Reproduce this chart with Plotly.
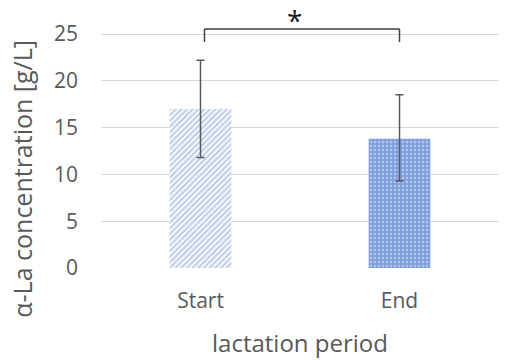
import plotly.graph_objects as go

categories = ["Start", "End"]
values = [17.0, 13.8]
err_plus = [5.2, 4.7]
err_minus = [5.2, 4.5]
y_ticks = [0, 5, 10, 15, 20, 25]
bracket_y = 25.55
bracket_leg = 24.15
star_y = 26.5
star_label = "*"
y_title = "α-La concentration [g/L]"
x_title = "lactation period"

fig = go.Figure()
fig.add_trace(go.Bar(
    x=[categories[0]], y=[values[0]],
    error_y=dict(type="data", symmetric=False, array=[err_plus[0]], arrayminus=[err_minus[0]],
                 color="#595959", thickness=1.5, width=4),
    marker=dict(color="white", line=dict(width=0),
                pattern=dict(shape="/", fgcolor="#7f9dd8", bgcolor="white", size=4, solidity=0.55)),
    width=0.31, showlegend=False,
))
fig.add_trace(go.Bar(
    x=[categories[1]], y=[values[1]],
    error_y=dict(type="data", symmetric=False, array=[err_plus[1]], arrayminus=[err_minus[1]],
                 color="#595959", thickness=1.5, width=4),
    marker=dict(color="#7f9fdc", line=dict(width=0),
                pattern=dict(shape=".", fgcolor="#e3eaf8", bgcolor="#7f9fdc", size=4, solidity=0.3)),
    width=0.31, showlegend=False,
))

fig.add_shape(type="line", xref="x", yref="y", x0=0.02, x1=0.02, y0=bracket_leg, y1=bracket_y,
              line=dict(color="#404040", width=1.5))
fig.add_shape(type="line", xref="x", yref="y", x0=0.02, x1=1.0, y0=bracket_y, y1=bracket_y,
              line=dict(color="#404040", width=1.5))
fig.add_shape(type="line", xref="x", yref="y", x0=1.0, x1=1.0, y0=bracket_leg, y1=bracket_y,
              line=dict(color="#404040", width=1.5))
fig.add_annotation(x=0.47, xref="x", y=star_y, yref="y", text=star_label, showarrow=False,
                   yanchor="middle", font=dict(size=28, color="#1a1a1a", family="Open Sans"))
fig.add_annotation(x=-0.1985, xref="paper", y=0.36, yref="paper", text=y_title, showarrow=False,
                   textangle=-90, xanchor="center", yanchor="middle",
                   font=dict(size=25, color="#595959", family="Open Sans"))

fig.update_layout(
    width=509, height=360,
    margin=dict(l=101, r=10, t=20, b=92, autoexpand=False),
    plot_bgcolor="white", paper_bgcolor="white",
    font=dict(family="Open Sans", color="#595959", size=21),
    bargap=0.69,
)
fig.update_xaxes(showgrid=False, showline=False, ticks="", ticklabelstandoff=18, automargin=False,
                 tickfont=dict(size=21, color="#595959"),
                 title=dict(text=x_title, font=dict(size=24, color="#595959"), standoff=22))
fig.update_yaxes(range=[0, 26.5], tickvals=y_ticks, showgrid=True, gridcolor="#d9d9d9", gridwidth=1,
                 zeroline=False, showline=False, ticks="", ticklabelstandoff=22, automargin=False,
                 tickfont=dict(size=21, color="#595959"))

fig.write_html("out.html")
